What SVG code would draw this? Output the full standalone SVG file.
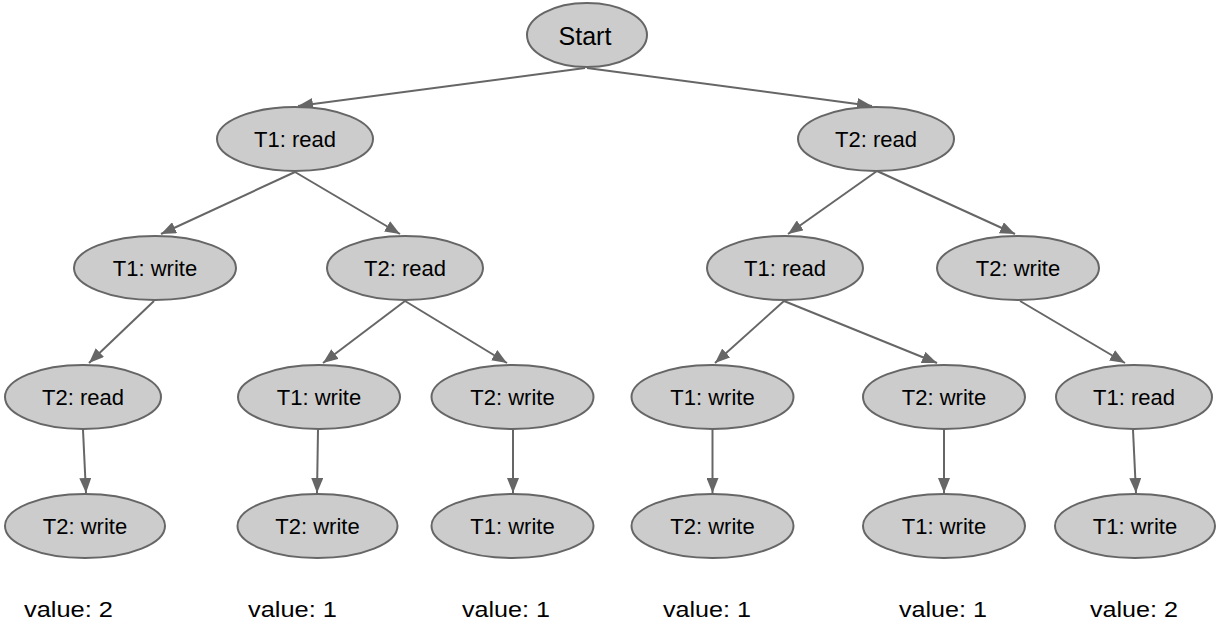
<svg xmlns="http://www.w3.org/2000/svg" width="1217" height="626" viewBox="0 0 1217 626">
  <style>
    .node ellipse { fill: #cccccc; stroke: #666666; stroke-width: 2; }
    .node text { font-family: "Liberation Sans", Arial, sans-serif; font-size: 22px; fill: #000000; text-anchor: middle; }
    #edges line { stroke: #666666; stroke-width: 2; marker-end: url(#arrow); }
    .value { font-family: "Liberation Sans", Arial, sans-serif; font-size: 22px; fill: #000000; }
  </style>
  <defs>
    <marker id="arrow" markerUnits="userSpaceOnUse" markerWidth="16" markerHeight="12" refX="15" refY="6" orient="auto">
      <path d="M0,0 L15,6 L0,12 z" fill="#666666"/>
    </marker>
  </defs>
  <rect width="1217" height="626" fill="#ffffff"/>

  <!-- connectors: parent bottom to child top -->
  <g id="edges">
    <line x1="585" y1="68" x2="298" y2="106"/>
    <line x1="587" y1="68" x2="872" y2="106"/>
    <line x1="295" y1="172" x2="161" y2="234"/>
    <line x1="295" y1="172" x2="400" y2="234"/>
    <line x1="877" y1="171" x2="788" y2="234"/>
    <line x1="877" y1="171" x2="1015" y2="234"/>
    <line x1="154" y1="301" x2="89" y2="363"/>
    <line x1="405" y1="301" x2="323" y2="363"/>
    <line x1="405" y1="301" x2="507" y2="363"/>
    <line x1="784" y1="301" x2="715" y2="363"/>
    <line x1="784" y1="301" x2="937" y2="363"/>
    <line x1="1020" y1="301" x2="1125" y2="363"/>
    <line x1="83" y1="430" x2="86" y2="493"/>
    <line x1="318" y1="430" x2="317" y2="493"/>
    <line x1="513" y1="430" x2="513" y2="493"/>
    <line x1="712.5" y1="430" x2="712.5" y2="493"/>
    <line x1="944" y1="430" x2="944" y2="493"/>
    <line x1="1133" y1="430" x2="1136" y2="493"/>
  </g>

  <!-- root -->
  <g id="n-start" class="node">
    <ellipse cx="587" cy="35" rx="60" ry="32"/>
    <text x="585" y="45" style="font-size:25px">Start</text>
  </g>

  <!-- level 2 -->
  <g id="n-t1read" class="node">
    <ellipse cx="295" cy="139" rx="78" ry="32"/>
    <text x="295" y="147">T1: read</text>
  </g>
  <g id="n-t2read" class="node">
    <ellipse cx="876" cy="139" rx="78" ry="32"/>
    <text x="876" y="147">T2: read</text>
  </g>

  <!-- level 3 -->
  <g id="n-a-t1write" class="node">
    <ellipse cx="155" cy="268" rx="81" ry="32"/>
    <text x="155" y="276">T1: write</text>
  </g>
  <g id="n-a-t2read" class="node">
    <ellipse cx="405" cy="268" rx="78" ry="32"/>
    <text x="405" y="276">T2: read</text>
  </g>
  <g id="n-b-t1read" class="node">
    <ellipse cx="785" cy="268" rx="78" ry="32"/>
    <text x="785" y="276">T1: read</text>
  </g>
  <g id="n-b-t2write" class="node">
    <ellipse cx="1018" cy="268" rx="81" ry="32"/>
    <text x="1018" y="276">T2: write</text>
  </g>

  <!-- level 4 -->
  <g id="n-aa-t2read" class="node">
    <ellipse cx="83" cy="397" rx="78" ry="32"/>
    <text x="83" y="405">T2: read</text>
  </g>
  <g id="n-ab-t1write" class="node">
    <ellipse cx="319" cy="397" rx="81" ry="32"/>
    <text x="319" y="405">T1: write</text>
  </g>
  <g id="n-ab-t2write" class="node">
    <ellipse cx="512.5" cy="397" rx="81" ry="32"/>
    <text x="512.5" y="405">T2: write</text>
  </g>
  <g id="n-ba-t1write" class="node">
    <ellipse cx="712.5" cy="397" rx="81" ry="32"/>
    <text x="712.5" y="405">T1: write</text>
  </g>
  <g id="n-ba-t2write" class="node">
    <ellipse cx="944" cy="397" rx="81" ry="32"/>
    <text x="944" y="405">T2: write</text>
  </g>
  <g id="n-bb-t1read" class="node">
    <ellipse cx="1134" cy="397" rx="78" ry="32"/>
    <text x="1134" y="405">T1: read</text>
  </g>

  <!-- level 5 (leaves) -->
  <g id="l1-t2write" class="node">
    <ellipse cx="85" cy="526" rx="80" ry="32"/>
    <text x="85" y="534">T2: write</text>
  </g>
  <g id="l2-t2write" class="node">
    <ellipse cx="317.5" cy="526" rx="80" ry="32"/>
    <text x="317.5" y="534">T2: write</text>
  </g>
  <g id="l3-t1write" class="node">
    <ellipse cx="512.5" cy="526" rx="81" ry="32"/>
    <text x="512.5" y="534">T1: write</text>
  </g>
  <g id="l4-t2write" class="node">
    <ellipse cx="712.5" cy="526" rx="81" ry="32"/>
    <text x="712.5" y="534">T2: write</text>
  </g>
  <g id="l5-t1write" class="node">
    <ellipse cx="944" cy="526" rx="81" ry="32"/>
    <text x="944" y="534">T1: write</text>
  </g>
  <g id="l6-t1write" class="node">
    <ellipse cx="1135" cy="526" rx="80" ry="32"/>
    <text x="1135" y="534">T1: write</text>
  </g>

  <!-- final values per leaf -->
  <g id="values">
    <text class="value" x="24" y="617" textLength="89" lengthAdjust="spacingAndGlyphs">value: 2</text>
    <text class="value" x="248" y="617" textLength="89" lengthAdjust="spacingAndGlyphs">value: 1</text>
    <text class="value" x="462" y="617" textLength="88" lengthAdjust="spacingAndGlyphs">value: 1</text>
    <text class="value" x="663" y="617" textLength="88" lengthAdjust="spacingAndGlyphs">value: 1</text>
    <text class="value" x="899" y="617" textLength="88" lengthAdjust="spacingAndGlyphs">value: 1</text>
    <text class="value" x="1090" y="617" textLength="88" lengthAdjust="spacingAndGlyphs">value: 2</text>
  </g>
</svg>
